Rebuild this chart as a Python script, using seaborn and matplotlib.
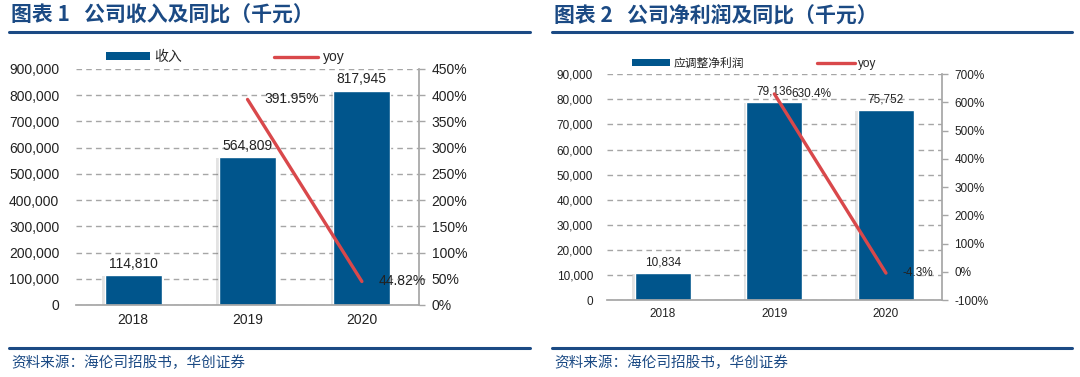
import matplotlib
matplotlib.use("Agg")
import matplotlib.pyplot as plt
import matplotlib.patheffects as pe
from matplotlib.patches import Patch
from matplotlib.lines import Line2D
from matplotlib.ticker import FuncFormatter, MultipleLocator
import seaborn as sns
import pandas as pd

years = ["2018", "2019", "2020"]
revenue = [114810, 564809, 817945]
revenue_yoy_years = ["2019", "2020"]
revenue_yoy = [391.95, 44.82]
revenue_yoy_labels = ["391.95%", "44.82%"]

profit = [10834, 79136, 75752]
profit_yoy_years = ["2019", "2020"]
profit_yoy = [630.4, -4.3]
profit_yoy_labels = ["630.4%", "-4.3%"]

titles = ["图表 1   公司收入及同比（千元）", "图表 2   公司净利润及同比（千元）"]
bar_names = ["收入", "应调整净利润"]
source = "资料来源：海伦司招股书，华创证券"

BLUE = "#00558c"
RED = "#d9484b"
TITLE_C = "#1b4a84"
GRID = "#a6a6a6"

sns.set_theme(style="white")
plt.rcParams["font.family"] = ["Liberation Sans", "Noto Sans CJK SC", "DejaVu Sans"]

fig = plt.figure(figsize=(10.8, 3.77), dpi=100)


def panel(rect, vals, yoy_years, yoy, yoy_labels, name, ylim, ystep, rlim, rstep, fs, lpad, legend_anchor, colsp):
    ax = fig.add_axes(rect)
    df = pd.DataFrame({"year": years, "val": vals})
    sns.barplot(data=df, x="year", y="val", color=BLUE, width=0.5, ax=ax, saturation=1)
    for p in ax.patches:
        p.set_path_effects([pe.SimplePatchShadow(offset=(-2, -1), shadow_rgbFace="#777777", alpha=0.2), pe.Normal()])
    ax.bar_label(ax.containers[0], labels=[f"{v:,}" for v in vals], padding=3, fontsize=fs, color="#222222")
    ax.set_xlim(-0.5, 2.5)
    ax.set_ylim(*ylim)
    ax.yaxis.set_major_locator(MultipleLocator(ystep))
    ax.yaxis.set_major_formatter(FuncFormatter(lambda v, _: f"{v:,.0f}"))
    ax.set_xlabel("")
    ax.set_ylabel("")
    ax.grid(axis="y", color=GRID, linestyle=(0, (4, 3)), linewidth=1)
    ax.set_axisbelow(True)
    for s in ["left", "top", "right"]:
        ax.spines[s].set_visible(False)
    ax.spines["bottom"].set_color(GRID)
    ax.tick_params(axis="y", length=0, pad=lpad, labelsize=fs, colors="#222222")
    ax.tick_params(axis="x", length=0, pad=6, labelsize=fs, colors="#222222")

    ax2 = ax.twinx()
    xs = [years.index(y) for y in yoy_years]
    sns.lineplot(x=xs, y=yoy, color=RED, linewidth=2.4, ax=ax2)
    for x, y, t in zip(xs, yoy, yoy_labels):
        ax2.annotate(t, (x, y), xytext=(12, 0), textcoords="offset points",
                     ha="left", va="center", fontsize=fs, color="#222222")
    ax2.set_ylim(*rlim)
    ax2.yaxis.set_major_locator(MultipleLocator(rstep))
    ax2.yaxis.set_major_formatter(FuncFormatter(lambda v, _: f"{v:.0f}%"))
    for s in ["left", "top", "bottom"]:
        ax2.spines[s].set_visible(False)
    ax2.spines["right"].set_color(GRID)
    ax2.tick_params(axis="y", length=4, width=1, pad=5, labelsize=fs, labelcolor="#222222", color=GRID)
    ax2.grid(False)
    ax2.set_xlim(-0.5, 2.5)

    handles = [Patch(facecolor=BLUE, edgecolor="none"), Line2D([], [], color=RED, linewidth=2.4)]
    ax.legend(handles, [name, "yoy"], ncol=2, frameon=False, fontsize=fs,
              loc="lower left", bbox_to_anchor=legend_anchor, bbox_transform=fig.transFigure,
              handlelength=3.2, handleheight=0.45, handletextpad=0.3, columnspacing=colsp,
              borderaxespad=0, borderpad=0)
    return ax


panel([0.0704, 0.191, 0.3176, 0.626], revenue, revenue_yoy_years, revenue_yoy, revenue_yoy_labels,
      bar_names[0], (0, 900000), 100000, (0, 450), 50, 10, 12, (0.098, 0.83), 6.6)
panel([0.562, 0.204, 0.310, 0.599], profit, profit_yoy_years, profit_yoy, profit_yoy_labels,
      bar_names[1], (0, 90000), 10000, (-100, 700), 100, 8.5, 10, (0.585, 0.815), 6.2)

# title, rules and source lines for both panels
for x0, x1, title in [(0.008, 0.491, titles[0]), (0.511, 0.993, titles[1])]:
    fig.text(x0 + 0.002, 1 - 15 / 377, title, fontsize=15, fontweight="bold", color=TITLE_C,
             family=["Noto Sans CJK SC", "DejaVu Sans"], va="center", ha="left")
    fig.add_artist(Line2D([x0, x1], [1 - 32 / 377] * 2, color=TITLE_C, linewidth=2.2))
    fig.add_artist(Line2D([x0, x1], [1 - 348 / 377] * 2, color=TITLE_C, linewidth=2.2))
    fig.text(x0 + 0.002, 1 - 363 / 377, source, fontsize=10.5, color=TITLE_C, style="italic",
             family=["Noto Sans CJK SC", "DejaVu Sans"], va="center", ha="left")

fig.savefig("out.png", dpi=100)
